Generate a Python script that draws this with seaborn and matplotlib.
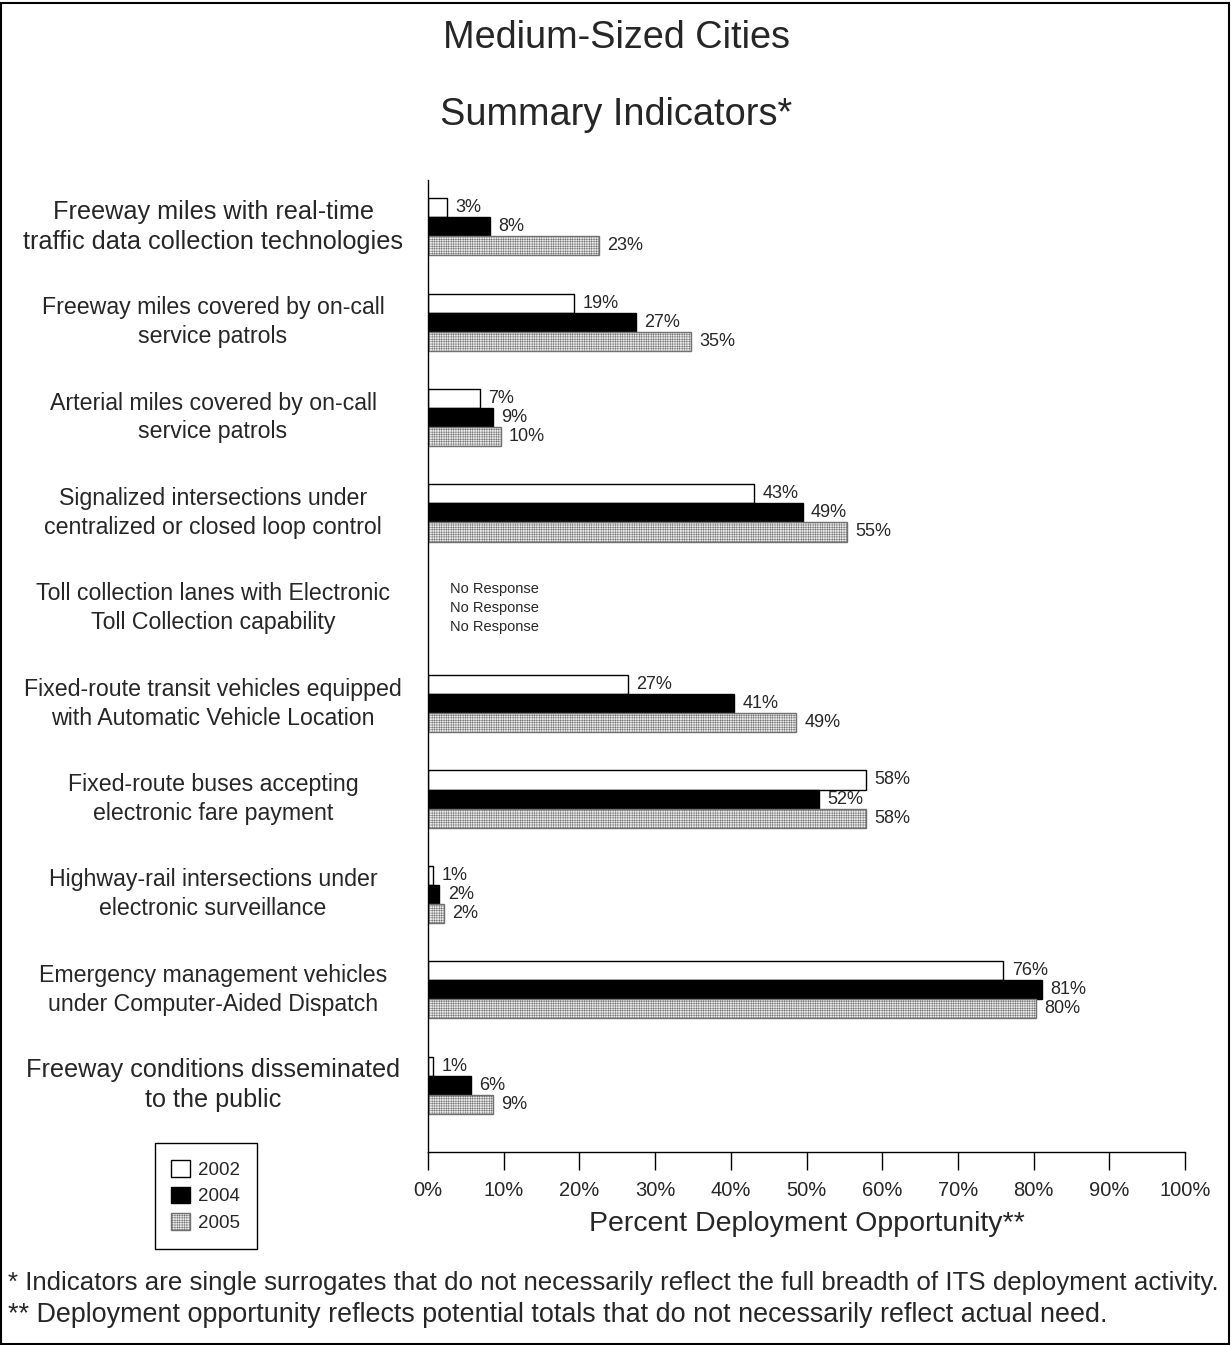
import numpy as np
import pandas as pd
import seaborn as sns
import matplotlib.pyplot as plt
import matplotlib.transforms as mtransforms
from matplotlib.patches import Patch, Rectangle

# Indicateurs (texte des catégories, sur deux lignes)
categories = [
    'Freeway miles with real-time\ntraffic data collection technologies',
    'Freeway miles covered by on-call\nservice patrols',
    'Arterial miles covered by on-call\nservice patrols',
    'Signalized intersections under\ncentralized or closed loop control',
    'Toll collection lanes with Electronic\nToll Collection capability',
    'Fixed-route transit vehicles equipped\nwith Automatic Vehicle Location',
    'Fixed-route buses accepting\nelectronic fare payment',
    'Highway-rail intersections under\nelectronic surveillance',
    'Emergency management vehicles\nunder Computer-Aided Dispatch',
    'Freeway conditions disseminated\nto the public',
]
years = ['2002', '2004', '2005']

# longueur des barres (en %); nan = pas de réponse
v2002 = [2.5, 19.3, 6.9, 43.1, np.nan, 26.4, 57.9, 0.7, 76.0, 0.7]
v2004 = [8.2, 27.5, 8.6, 49.5, np.nan, 40.4, 51.7, 1.5, 81.1, 5.7]
v2005 = [22.6, 34.7, 9.6, 55.3, np.nan, 48.6, 57.9, 2.1, 80.3, 8.6]

# étiquettes affichées à droite des barres
lab2002 = ['3%', '19%', '7%', '43%', 'No Response', '27%', '58%', '1%', '76%', '1%']
lab2004 = ['8%', '27%', '9%', '49%', 'No Response', '41%', '52%', '2%', '81%', '6%']
lab2005 = ['23%', '35%', '10%', '55%', 'No Response', '49%', '58%', '2%', '80%', '9%']

xticks = list(range(0, 101, 10))
xticklabels = [str(t) + '%' for t in xticks]

df = pd.DataFrame({
    'cat': categories * 3,
    'year': [y for y in years for _ in categories],
    'val': v2002 + v2004 + v2005,
})

sns.set_style('white')
plt.rcParams['font.family'] = ['Liberation Sans', 'DejaVu Sans']
plt.rcParams['hatch.linewidth'] = 0.35

fig = plt.figure(figsize=(12.31, 13.45), dpi=100)
ax = fig.add_axes([428 / 1231, 1 - 1152 / 1345, (1185 - 428) / 1231, (1152 - 180) / 1345])

pal = {'2002': 'white', '2004': 'black', '2005': '#ececec'}
sns.barplot(data=df, y='cat', x='val', hue='year', hue_order=years, order=categories,
            palette=pal, orient='h', width=0.6, edgecolor='black', linewidth=1,
            saturation=1, ax=ax, legend=False, errorbar=None)

for bar in ax.containers[2]:
    bar.set_hatch('+++++++')
    bar.set_edgecolor('#707070')

ax.set_xlim(0, 100)
ax.set_ylim(9.70, -0.49)
ax.set_xticks(xticks)
ax.set_xticklabels(xticklabels, fontsize=14.5)
ax.tick_params(axis='x', direction='out', length=13, width=1, pad=8, bottom=True, color='black')
ax.tick_params(axis='y', left=False, labelleft=False)
ax.set_ylabel('')
ax.set_xlabel('Percent Deployment Opportunity**', fontsize=20.5, labelpad=8)
for s in ['top', 'right']:
    ax.spines[s].set_visible(False)
for s in ['left', 'bottom']:
    ax.spines[s].set_color('black')
    ax.spines[s].set_linewidth(1)

# étiquettes de valeur
offsets = [-0.2, 0.0, 0.2]
for j, (vals, labs) in enumerate(zip([v2002, v2004, v2005], [lab2002, lab2004, lab2005])):
    for i, (v, lab) in enumerate(zip(vals, labs)):
        if np.isnan(v):
            ax.annotate(lab, (0, i + offsets[j]), xytext=(16, 0), textcoords='offset points',
                        va='center', ha='left', fontsize=10.5)
        else:
            ax.annotate(lab, (v, i + offsets[j]), xytext=(6, 0), textcoords='offset points',
                        va='center', ha='left', fontsize=13)

# noms des indicateurs à gauche (le premier et le dernier sont un peu plus grands)
trans = mtransforms.blended_transform_factory(fig.transFigure, ax.transData)
for i, c in enumerate(categories):
    fs = 18.2 if i in (0, len(categories) - 1) else 16.7
    ax.text(213 / 1231, i, c, transform=trans, ha='center', va='center',
            fontsize=fs, linespacing=1.33)

fig.text(616 / 1231, 1 - 38 / 1345, 'Medium-Sized Cities', ha='center', va='center', fontsize=27.3)
fig.text(616 / 1231, 1 - 115 / 1345, 'Summary Indicators*', ha='center', va='center', fontsize=27.3)

handles = [Patch(facecolor='white', edgecolor='black', label='2002'),
           Patch(facecolor='black', edgecolor='black', label='2004'),
           Patch(facecolor='#ececec', edgecolor='#707070', hatch='+++++++', label='2005')]
leg = fig.legend(handles=handles, loc='center', bbox_to_anchor=(205.5 / 1231, 1 - 1196 / 1345),
                 fontsize=13.5, frameon=True, fancybox=False, framealpha=1, edgecolor='black',
                 handlelength=1.0, handleheight=1.0, handletextpad=0.4, borderpad=0.9, labelspacing=0.4)
leg.get_frame().set_linewidth(1)

fig.text(8 / 1231, 1 - 1283 / 1345,
         '* Indicators are single surrogates that do not necessarily reflect the full breadth of ITS deployment activity.',
         ha='left', va='center', fontsize=18.6)
fig.text(8 / 1231, 1 - 1315 / 1345,
         '** Deployment opportunity reflects potential totals that do not necessarily reflect actual need.',
         ha='left', va='center', fontsize=19.4)

fig.patches.append(Rectangle((0.001, 0.001), 0.997, 0.997, transform=fig.transFigure,
                             fill=False, edgecolor='black', linewidth=1.5))

fig.savefig('out.png', dpi=100, facecolor='white')
